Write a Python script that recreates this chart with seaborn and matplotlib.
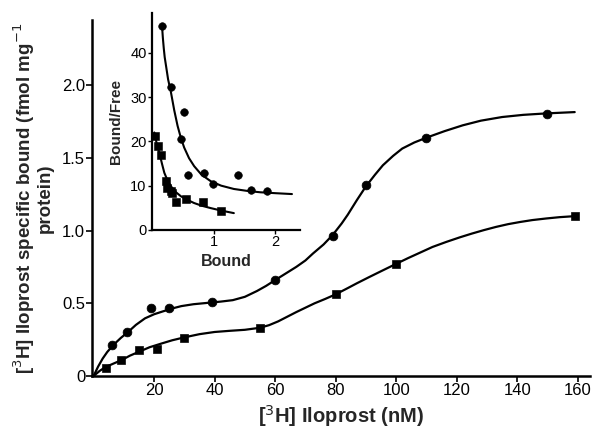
import matplotlib
matplotlib.use("Agg")
import matplotlib.pyplot as plt
import seaborn as sns

circle_x = [6, 11, 19, 25, 39, 60, 79, 90, 110, 150]
circle_y = [0.21, 0.30, 0.47, 0.465, 0.507, 0.66, 0.964, 1.313, 1.638, 1.80]
square_x = [4, 9, 15, 21, 30, 55, 80, 100, 159]
square_y = [0.053, 0.11, 0.179, 0.184, 0.263, 0.332, 0.562, 0.77, 1.102]

# Hand-drawn fitted curves
upper_curve_x = [0, 1.5, 3, 4.5, 6.5, 9, 11.5, 14, 17, 20, 22.5, 26, 29, 33, 38, 42, 46, 50, 54, 57, 60, 64, 67, 70, 72.5,
                 76, 79, 82, 84, 87, 90, 93, 95.6, 99, 102, 106, 110, 116, 122, 128, 135, 142, 149.6, 159]
upper_curve_y = [0, 0.065, 0.12, 0.165, 0.213, 0.262, 0.305, 0.352, 0.397, 0.425, 0.442, 0.465, 0.481, 0.494, 0.504, 0.512,
                 0.522, 0.545, 0.585, 0.62, 0.66, 0.712, 0.751, 0.795, 0.843, 0.905, 0.97, 1.05, 1.11, 1.21, 1.305,
                 1.385, 1.45, 1.515, 1.565, 1.607, 1.64, 1.685, 1.725, 1.757, 1.782, 1.797, 1.807, 1.816]
lower_curve_x = [0, 2, 3.8, 6.5, 9.3, 12, 14.8, 18.5, 22.5, 26, 30, 35, 40, 45, 50, 55, 58, 61, 64, 67, 70, 73, 76.5,
                 80, 84, 87, 91, 94.6, 100, 104, 108, 112, 116.6, 121, 125, 129, 133, 137, 141, 145, 149.6, 154, 159]
lower_curve_y = [0, 0.035, 0.06, 0.085, 0.11, 0.14, 0.165, 0.198, 0.224, 0.246, 0.266, 0.288, 0.303, 0.311, 0.318,
                 0.332, 0.35, 0.376, 0.408, 0.44, 0.47, 0.5, 0.53, 0.562, 0.605, 0.638, 0.68, 0.717, 0.772,
                 0.812, 0.85, 0.888, 0.923, 0.954, 0.98, 1.004, 1.026, 1.045, 1.06, 1.073, 1.084, 1.093, 1.10]

# Inset (Scatchard plot)
in_circle_x = [0.156, 0.31, 0.52, 0.47, 0.59, 0.84, 0.99, 1.39, 1.60, 1.87]
in_circle_y = [46, 32.2, 26.7, 20.5, 12.5, 12.9, 10.4, 12.5, 9.1, 8.7]
in_square_x = [0.04, 0.10, 0.15, 0.23, 0.25, 0.31, 0.33, 0.39, 0.55, 0.82, 1.12]
in_square_y = [21.2, 18.9, 17.0, 11.0, 9.5, 8.7, 8.3, 6.2, 7.0, 6.2, 4.3]
in_upper_x = [0.161, 0.175, 0.19, 0.205, 0.226, 0.26, 0.306, 0.36, 0.414, 0.465, 0.521, 0.6, 0.683, 0.8, 0.952,
              1.12, 1.327, 1.55, 1.758, 2.0, 2.27]
in_upper_y = [46.2, 43.4, 41.0, 39.0, 37.1, 34.0, 31.1, 27.0, 23.5, 20.9, 18.6, 16.2, 14.4, 12.5, 11.0,
              10.0, 9.25, 8.8, 8.5, 8.3, 8.1]
in_lower_x = [0.037, 0.075, 0.118, 0.16, 0.199, 0.25, 0.306, 0.38, 0.468, 0.57, 0.683, 0.81, 0.952, 1.13, 1.327]
in_lower_y = [22.0, 19.5, 17.4, 15.0, 12.9, 11.2, 9.85, 8.6, 7.6, 6.8, 6.07, 5.45, 4.93, 4.35, 3.8]

sns.set_style("ticks")
plt.rcParams['font.family'] = ['Liberation Sans', 'DejaVu Sans']

fig = plt.figure(figsize=(5.94, 4.29), dpi=100)
ax = fig.add_axes([0.155, 0.1235, 0.838, 0.83])

lw = 1.6
sns.lineplot(x=upper_curve_x, y=upper_curve_y, ax=ax, color="black", lw=lw, sort=False, estimator=None)
sns.lineplot(x=lower_curve_x, y=lower_curve_y, ax=ax, color="black", lw=lw, sort=False, estimator=None)
sns.scatterplot(x=circle_x, y=circle_y, ax=ax, color="black", marker="o", s=40, edgecolor="black", zorder=5)
sns.scatterplot(x=square_x, y=square_y, ax=ax, color="black", marker="s", s=34, edgecolor="black", zorder=5)

ax.set_xlim(-0.5, 164)
ax.set_ylim(0, 2.45)
ax.set_xticks([20, 40, 60, 80, 100, 120, 140, 160])
ax.set_yticks([0, 0.5, 1.0, 1.5, 2.0])
ax.set_yticklabels(["0", "0.5", "1.0", "1.5", "2.0"])
ax.tick_params(labelsize=12, length=4, width=1.2, color="black", labelcolor="black", pad=1)
for s in ["top", "right"]:
    ax.spines[s].set_visible(False)
for s in ["left", "bottom"]:
    ax.spines[s].set_linewidth(1.8)
    ax.spines[s].set_color("black")
ax.set_xlabel("[$^3$H] Iloprost (nM)", fontsize=14.5, fontweight="bold", labelpad=4)
ax.set_ylabel("[$^3$H] Iloprost specific bound (fmol mg$^{-1}$\nprotein)",
              fontsize=13.5, fontweight="bold", labelpad=6, linespacing=0.95)

# Inset
ins = fig.add_axes([0.256, 0.464, 0.249, 0.506])
sns.lineplot(x=in_upper_x, y=in_upper_y, ax=ins, color="black", lw=1.5, sort=False, estimator=None)
sns.lineplot(x=in_lower_x, y=in_lower_y, ax=ins, color="black", lw=1.5, sort=False, estimator=None)
sns.scatterplot(x=in_circle_x, y=in_circle_y, ax=ins, color="black", marker="o", s=30, edgecolor="black", zorder=5)
sns.scatterplot(x=in_square_x, y=in_square_y, ax=ins, color="black", marker="s", s=26, edgecolor="black", zorder=5)
ins.set_xlim(0, 2.4)
ins.set_ylim(0, 49)
ins.set_xticks([1, 2])
ins.set_yticks([0, 10, 20, 30, 40])
ins.tick_params(labelsize=10.5, length=3, width=1.0, color="black", labelcolor="black", pad=1)
for s in ["top", "right"]:
    ins.spines[s].set_visible(False)
for s in ["left", "bottom"]:
    ins.spines[s].set_linewidth(1.6)
    ins.spines[s].set_color("black")
ins.patch.set_alpha(0)
ins.set_xlabel("Bound", fontsize=11.5, fontweight="bold", labelpad=3)
ins.set_ylabel("Bound/Free", fontsize=11, fontweight="bold", labelpad=5)

fig.savefig("out.png", dpi=100)
